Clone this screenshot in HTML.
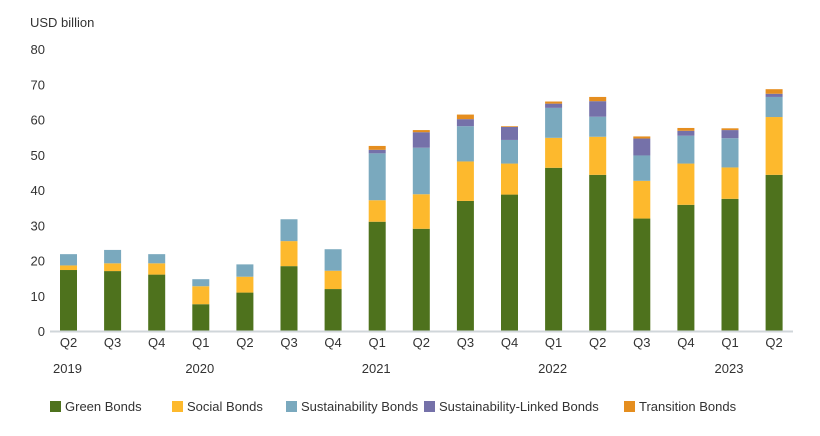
<!DOCTYPE html>
<html><head><meta charset="utf-8"><style>
body{margin:0;background:#fff;font-family:"Liberation Sans",sans-serif;}
svg text{font-family:"Liberation Sans",sans-serif;fill:#333;}
</style></head><body>
<svg width="820" height="431" id="c">
<text x="30" y="27" font-size="13">USD billion</text>
</svg>
<script>
const categories=["Q2","Q3","Q4","Q1","Q2","Q3","Q4","Q1","Q2","Q3","Q4","Q1","Q2","Q3","Q4","Q1","Q2"];
const years=[["2019",0],["2020",3],["2021",7],["2022",11],["2023",15]];
const green=[17.3,17,16,7.6,10.9,18.4,11.9,31,29,36.9,38.7,46.3,44.3,31.9,35.8,37.5,44.3];
const social=[1.3,2.2,3.2,5.1,4.5,7.1,5.2,6.1,9.8,11.2,8.8,8.5,10.8,10.7,11.7,8.9,16.4];
const sustain=[3.2,3.8,2.6,2,3.5,6.2,6.1,13.3,13.2,10,6.7,8.5,5.7,7.2,7.9,8.3,5.7];
const slinked=[0,0,0,0,0,0,0,1,4.4,2,3.7,1.2,4.4,4.8,1.4,2.3,0.9];
const transition=[0,0,0,0,0,0,0,1.1,0.6,1.3,0.2,0.6,1.2,0.6,0.8,0.5,1.3];
const yTicks=[0,10,20,30,40,50,60,70,80];
const seriesNames=["Green Bonds","Social Bonds","Sustainability Bonds","Sustainability-Linked Bonds","Transition Bonds"];
const colors=["#4e721d","#fdb92d","#7aa9be","#7571a9","#e58e1f"];
const ns="http://www.w3.org/2000/svg",svg=document.getElementById("c");
const y=v=>331-v*35.25/10, x=i=>68.5+i*44.1;
function el(t,a,txt){const e=document.createElementNS(ns,t);for(const k in a)e.setAttribute(k,a[k]);if(txt!==undefined)e.textContent=txt;svg.appendChild(e);return e;}
yTicks.forEach(v=>{const t=el("text",{x:45,y:y(v)+5,"font-size":13,"text-anchor":"end"},v);

});
const data=[green,social,sustain,slinked,transition];
categories.forEach((c,i)=>{let base=0;data.forEach((s,k)=>{const v=s[i];if(v>0){const r=el("rect",{x:x(i)-8.5,y:y(base+v),width:17,height:y(base)-y(base+v),fill:colors[k]});

}base+=v;});
const t=el("text",{x:x(i),y:347,"font-size":13,"text-anchor":"middle"},c);

});
const ax=el("line",{x1:50,x2:793,y1:331.5,y2:331.5,stroke:"#d0d6da","stroke-width":2});


years.forEach(([yr,i])=>{const t=el("text",{x:x(i)-1,y:373,"font-size":13,"text-anchor":"middle"},yr);

});
const lx=[50,172,286,424,624];
seriesNames.forEach((n,k)=>{const r=el("rect",{x:lx[k],y:401,width:11,height:11,fill:colors[k]});


const t=el("text",{x:lx[k]+15,y:411,"font-size":13},n);

});
</script>
</body></html>
